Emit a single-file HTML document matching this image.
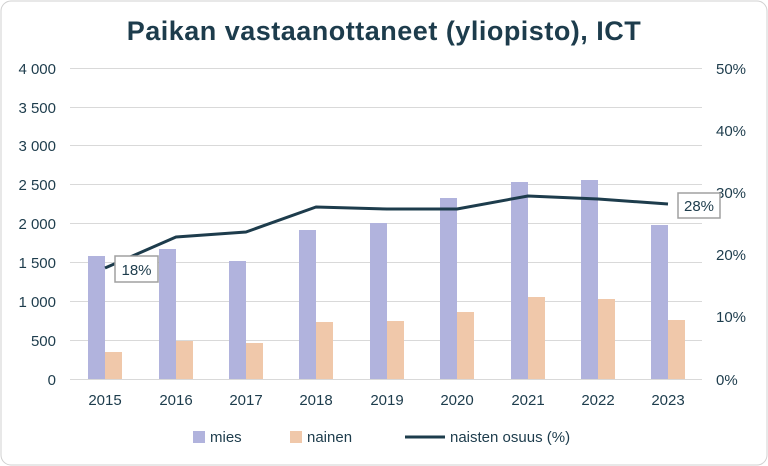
<!DOCTYPE html>
<html><head><meta charset="utf-8"><style>
body{margin:0;background:#fff;}
svg{display:block;font-family:"Liberation Sans",sans-serif;}
</style></head><body>
<svg width="768" height="466" viewBox="0 0 768 466">
<rect x="1" y="1" width="766" height="464" rx="10" fill="#fff" stroke="#d0d0d0"/>
<text x="384" y="40" text-anchor="middle" font-size="27" font-weight="bold" fill="#1d3c4c" letter-spacing="0.5">Paikan vastaanottaneet (yliopisto), ICT</text>
<g stroke="#d9d9d9" stroke-width="1">
<line x1="70" x2="702" y1="68.5" y2="68.5"/><line x1="70" x2="702" y1="107.5" y2="107.5"/>
<line x1="70" x2="702" y1="145.5" y2="145.5"/><line x1="70" x2="702" y1="184.5" y2="184.5"/>
<line x1="70" x2="702" y1="223.5" y2="223.5"/><line x1="70" x2="702" y1="262.5" y2="262.5"/>
<line x1="70" x2="702" y1="301.5" y2="301.5"/><line x1="70" x2="702" y1="340.5" y2="340.5"/>
<line x1="70" x2="702" y1="379.5" y2="379.5"/>
</g>
<g font-size="15" fill="#1d3c4c" text-anchor="end">
<text x="56" y="74">4 000</text><text x="56" y="113">3 500</text><text x="56" y="151">3 000</text>
<text x="56" y="190">2 500</text><text x="56" y="229">2 000</text><text x="56" y="268">1 500</text>
<text x="56" y="307">1 000</text><text x="56" y="346">500</text><text x="56" y="385">0</text>
</g>
<g font-size="15" fill="#1d3c4c" text-anchor="start">
<text x="716" y="74">50%</text><text x="716" y="136">40%</text><text x="716" y="198">30%</text>
<text x="716" y="260">20%</text><text x="716" y="322">10%</text><text x="716" y="385">0%</text>
</g>
<g fill="#b1b3dd">
<rect x="88" y="256" width="17" height="123"/><rect x="159" y="249" width="17" height="130"/>
<rect x="229" y="261" width="17" height="118"/><rect x="299" y="230" width="17" height="149"/>
<rect x="370" y="223" width="17" height="156"/><rect x="440" y="198" width="17" height="181"/>
<rect x="511" y="182" width="17" height="197"/><rect x="581" y="180" width="17" height="199"/>
<rect x="651" y="225" width="17" height="154"/>
</g>
<g fill="#f0c8aa">
<rect x="105" y="352" width="17" height="27"/><rect x="176" y="341" width="17" height="38"/>
<rect x="246" y="343" width="17" height="36"/><rect x="316" y="322" width="17" height="57"/>
<rect x="387" y="321" width="17" height="58"/><rect x="457" y="312" width="17" height="67"/>
<rect x="528" y="297" width="17" height="82"/><rect x="598" y="299" width="17" height="80"/>
<rect x="668" y="320" width="17" height="59"/>
</g>
<polyline fill="none" stroke="#1d3c4c" stroke-width="3" stroke-linejoin="round" points="105,268 176,237 246,232 316,207 387,209 457,209 528,196 598,199 668,204"/>
<rect x="115" y="256" width="43" height="26" fill="#fff" stroke="#a0a0a0" stroke-width="1.5"/>
<text x="136.5" y="275" text-anchor="middle" font-size="15" fill="#1d3c4c">18%</text>
<rect x="678" y="193" width="42" height="25" fill="#fff" stroke="#a0a0a0" stroke-width="1.5"/>
<text x="699" y="211" text-anchor="middle" font-size="15" fill="#1d3c4c">28%</text>
<g font-size="15" fill="#1d3c4c" text-anchor="middle">
<text x="105" y="405">2015</text><text x="176" y="405">2016</text><text x="246" y="405">2017</text>
<text x="316" y="405">2018</text><text x="387" y="405">2019</text><text x="457" y="405">2020</text>
<text x="528" y="405">2021</text><text x="598" y="405">2022</text><text x="668" y="405">2023</text>
</g>
<rect x="193" y="431" width="12" height="12" fill="#b1b3dd"/>
<text x="210" y="442" font-size="15" fill="#1d3c4c">mies</text>
<rect x="290" y="431" width="12" height="12" fill="#f0c8aa"/>
<text x="307" y="442" font-size="15" fill="#1d3c4c">nainen</text>
<line x1="405" x2="445" y1="437" y2="437" stroke="#1d3c4c" stroke-width="3"/>
<text x="450" y="442" font-size="15" fill="#1d3c4c">naisten osuus (%)</text>
</svg>
</body></html>
